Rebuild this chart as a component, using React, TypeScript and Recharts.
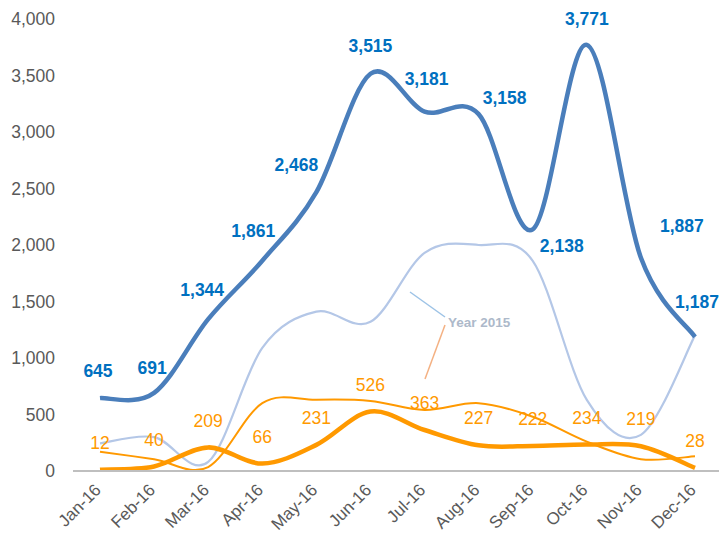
import { LineChart, Line, XAxis, YAxis, LabelList } from "recharts"

const months = ["Jan-16", "Feb-16", "Mar-16", "Apr-16", "May-16", "Jun-16", "Jul-16", "Aug-16", "Sep-16", "Oct-16", "Nov-16", "Dec-16"]
const blue2016 = [645, 691, 1344, 1861, 2468, 3515, 3181, 3158, 2138, 3771, 1887, 1187]
const blue2015 = [245, 300, 80, 1090, 1410, 1320, 1930, 2000, 1860, 630, 320, 1200]
const orange2016 = [12, 40, 209, 66, 231, 526, 363, 227, 222, 234, 219, 28]
const orange2015 = [170, 105, 35, 600, 630, 620, 540, 600, 480, 260, 105, 130]
const yTicks = [0, 500, 1000, 1500, 2000, 2500, 3000, 3500, 4000]

// nudges for the blue value labels (dx, dy from the point)
const blueLabelShift = [
  [-2, -27], [-2, -25], [-6, -29], [-9, -30], [-20, -27], [0, -28],
  [2, -33], [26, -16], [29, 16], [0, -26], [41, -32], [2, -35],
]

const data = months.map((m, i) => ({
  month: m,
  b16: blue2016[i],
  b15: blue2015[i],
  o16: orange2016[i],
  o15: orange2015[i],
}))

const FONT = "'Liberation Sans', Arial, sans-serif"

// Excel-style smoothed line (Catmull-Rom through every point)
const excelCurve = (context: any) => {
  let pts: number[][] = []
  return {
    areaStart() {},
    areaEnd() {},
    lineStart() {
      pts = []
    },
    point(x: number, y: number) {
      pts.push([+x, +y])
    },
    lineEnd() {
      if (!pts.length) return
      context.moveTo(pts[0][0], pts[0][1])
      for (let i = 0; i < pts.length - 1; i++) {
        const p0 = pts[i - 1] || pts[i]
        const p1 = pts[i]
        const p2 = pts[i + 1]
        const p3 = pts[i + 2] || p2
        context.bezierCurveTo(
          p1[0] + (p2[0] - p0[0]) / 6,
          p1[1] + (p2[1] - p0[1]) / 6,
          p2[0] - (p3[0] - p1[0]) / 6,
          p2[1] - (p3[1] - p1[1]) / 6,
          p2[0],
          p2[1]
        )
      }
    },
  }
}

const fmt = (v: number) => v.toLocaleString("en-US")

const BlueLabel = (props: any) => {
  const { x, y, value, index } = props
  const [dx, dy] = blueLabelShift[index] || [0, -27]
  return (
    <text x={x + dx} y={y + dy} dy="0.35em" textAnchor="middle" fill="#0070C0" fontSize={17.5} fontWeight="bold" fontFamily={FONT}>
      {fmt(value)}
    </text>
  )
}

const OrangeLabel = (props: any) => {
  const { x, y, value } = props
  return (
    <text x={x} y={y - 27} dy="0.35em" textAnchor="middle" fill="#FF9900" fontSize={17.5} fontFamily={FONT}>
      {fmt(value)}
    </text>
  )
}

const MonthTick = (props: any) => {
  const { x, y, payload } = props
  const tx = x + 2
  const ty = y + 20
  return (
    <text x={tx} y={ty} transform={`rotate(-45 ${tx} ${ty})`} textAnchor="end" fill="#595959" fontSize={17} fontFamily={FONT}>
      {payload.value}
    </text>
  )
}

export default function App() {
  return (
    <div style={{ position: "absolute", left: 0, top: 0, width: 719, height: 533, overflow: "hidden", background: "#fff" }}>
      <LineChart width={722} height={533} data={data} margin={{ top: 19, right: 0, bottom: 0, left: 0 }}>
        <XAxis
          dataKey="month"
          interval={0}
          height={62}
          padding={{ left: 27, right: 27 }}
          tickLine={false}
          tickSize={0}
          tickMargin={0}
          axisLine={{ stroke: "#BFBFBF", strokeWidth: 2 }}
          tick={<MonthTick />}
        />
        <YAxis
          width={73}
          domain={[0, 4000]}
          ticks={yTicks}
          axisLine={false}
          tickLine={false}
          tickSize={0}
          tickMargin={18}
          tickFormatter={fmt}
          tick={{ fill: "#595959", fontSize: 17.5, fontFamily: FONT }}
        />
        <Line dataKey="b15" type={excelCurve as any} stroke="#B4C7E7" strokeWidth={2.2} dot={false} activeDot={false} isAnimationActive={false} />
        <Line dataKey="o15" type={excelCurve as any} stroke="#FF9900" strokeWidth={2} dot={false} activeDot={false} isAnimationActive={false} />
        <Line dataKey="b16" type={excelCurve as any} stroke="#4A7EBB" strokeWidth={4.5} dot={false} activeDot={false} isAnimationActive={false}>
          <LabelList dataKey="b16" content={<BlueLabel />} />
        </Line>
        <Line dataKey="o16" type={excelCurve as any} stroke="#FF9900" strokeWidth={4.5} dot={false} activeDot={false} isAnimationActive={false}>
          <LabelList dataKey="o16" content={<OrangeLabel />} />
        </Line>
      </LineChart>
      {/* "Year 2015" callout */}
      <svg width={719} height={533} style={{ position: "absolute", left: 0, top: 0, pointerEvents: "none" }}>
        <line x1={410} y1={292} x2={445} y2={317} stroke="#9DC3E6" strokeWidth={1.5} />
        <line x1={445} y1={325} x2={425} y2={379} stroke="#F4B183" strokeWidth={1.5} />
        <text x={448} y={327} fill="#ADB9CA" fontSize={13.5} fontWeight="bold" fontFamily={FONT}>
          Year 2015
        </text>
      </svg>
    </div>
  )
}
